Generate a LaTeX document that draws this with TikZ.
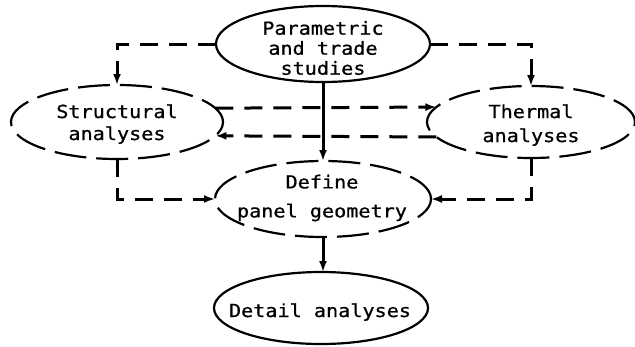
\documentclass[tikz,border=0pt]{standalone}
\usepackage{fontspec}
\newfontfamily\flowfont[FakeStretch=1.12,FakeBold=0.8]{DejaVu Sans Mono}
\usetikzlibrary{shapes.geometric,arrows.meta}

\tikzset{
  oval/.style={ellipse, draw, line width=2.2pt, inner sep=0pt, outer sep=0pt},
  dashedoval/.style={oval, dash pattern=on 32pt off 10pt},
  label text/.style={font=\flowfont\fontsize{18}{20}\selectfont, align=center, inner sep=0pt},
  conn/.style={line width=3pt, -{Latex[length=11pt,width=8pt]}},
  dconn/.style={conn, dash pattern=on 18pt off 11pt},
}

\begin{document}
\begin{tikzpicture}[x=1pt,y=-1pt]
\useasboundingbox (0,0) rectangle (635,346);

% boxes
\node[oval, minimum width=214pt, minimum height=76pt] (par) at (323,44) {};
\node[dashedoval, minimum width=212pt, minimum height=74pt] (str) at (117,122) {};
\node[dashedoval, minimum width=208pt, minimum height=72pt] (the) at (531,122) {};
\node[dashedoval, minimum width=216pt, minimum height=76pt] (def) at (323,199) {};
\node[oval, minimum width=214pt, minimum height=72pt] (det) at (321,308) {};

% texts
\node[label text] (partxt) at (323,48) {Parametric\\and trade\\studies};
\node[label text, font=\flowfont\fontsize{18}{22}\selectfont] (strtxt) at (117,124) {Structural\\analyses};
\node[label text, font=\flowfont\fontsize{18}{24}\selectfont] (thetxt) at (531,125) {Thermal\\analyses};
\node[label text, font=\flowfont\fontsize{18}{29}\selectfont] (deftxt) at (322,198) {Define\\panel geometry};
\node[label text] (dettxt) at (320,312) {Detail analyses};

% dashed connectors
\draw[dconn] (par.west) -| (str.north);
\draw[dconn] (par.east) -| (the.north);
\draw[dconn] (str.8.12) -- (the.171.69);
\draw[dconn] (the.189.02) -- (str.-8.8);
\draw[dconn] (str.south) |- (def.west);
\draw[dconn] (the.south) |- (def.east);

% solid connectors
\draw[conn] (par.south) -- (def.north);
\draw[conn] (def.south) -- (def.south |- det.north);
\end{tikzpicture}
\end{document}
